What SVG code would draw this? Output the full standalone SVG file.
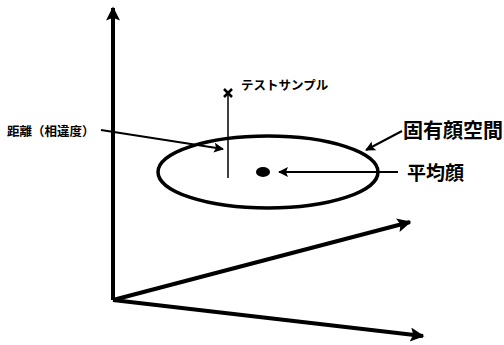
<svg xmlns="http://www.w3.org/2000/svg" width="504" height="345" viewBox="0 0 504 345">
<style>
.axis{stroke:#000;stroke-width:4;fill:none}
.lbl{stroke:#000;stroke-width:2;fill:none}
.jp{font-family:"Noto Sans CJK JP","Noto Sans CJK SC",sans-serif;fill:#000}
</style>
<defs>
<marker id="ax" viewBox="0 0 10 10" refX="9" refY="5" markerWidth="4" markerHeight="3.5" orient="auto" markerUnits="strokeWidth">
<path d="M0,0 L10,5 L0,10 L2,5 Z" fill="#000"/>
</marker>
<marker id="la" viewBox="0 0 10 10" refX="9" refY="5" markerWidth="6" markerHeight="5" orient="auto" markerUnits="strokeWidth">
<path d="M0,0 L10,5 L0,10 L2,5 Z" fill="#000"/>
</marker>
</defs>
<rect width="504" height="345" fill="#fff"/>
<g id="axes">
<path class="axis" d="M113,300 L113,8" marker-end="url(#ax)"/>
<path class="axis" d="M113,300 L410,222" marker-end="url(#ax)"/>
<path class="axis" d="M113,300 L423,336" marker-end="url(#ax)"/>
</g>
<g id="eigenface-space">
<ellipse cx="268" cy="172" rx="110" ry="36" fill="none" stroke="#000" stroke-width="3.5"/>
<text class="jp" x="403" y="138" font-size="20" font-weight="bold">固有顔空間</text>
</g>
<g id="mean-face">
<ellipse cx="263" cy="172" rx="7" ry="5" fill="#000"/>
<text class="jp" x="407" y="180" font-size="19" font-weight="bold">平均顔</text>
</g>
<g id="test-sample">
<path d="M224,89 L232,97 M232,89 L224,97" stroke="#000" stroke-width="2.5" fill="none"/>
<line x1="228" y1="93" x2="228" y2="178" stroke="#000" stroke-width="1.5"/>
<text class="jp" x="241" y="90" font-size="12.5" font-weight="bold">テストサンプル</text>
</g>
<g id="distance">
<text class="jp" x="7" y="136" font-size="12.5" font-weight="bold">距離（相違度）</text>
</g>
<g id="connectors">
<path class="lbl" d="M101,130 L223,149" marker-end="url(#la)"/>
<path class="lbl" d="M402,131 L366,150" marker-end="url(#la)"/>
<path class="lbl" d="M398,172 L279,172" marker-end="url(#la)"/>
</g>
</svg>
